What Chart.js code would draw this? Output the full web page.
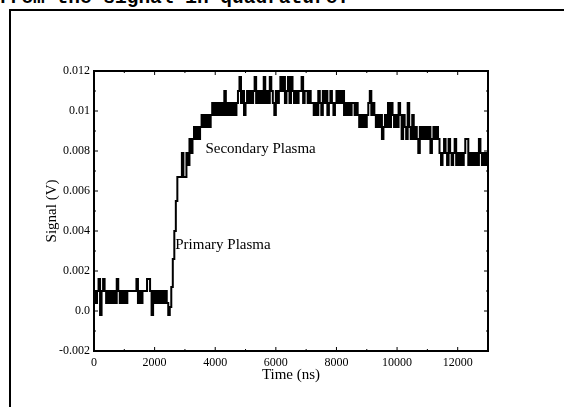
<!DOCTYPE html>
<html>
<head>
<meta charset="utf-8">
<script src="https://cdn.jsdelivr.net/npm/chart.js@4.4.1/dist/chart.umd.min.js"></script>
<style>
  html, body { margin: 0; padding: 0; background: #fff; }
  body { width: 564px; height: 407px; position: relative; overflow: hidden; }
  .caption {
    position: absolute; left: -2px; top: -12px;
    font: bold 19.5px "Liberation Mono", monospace; line-height: 20px;
    white-space: nowrap; color: #000;
  }
  .frame {
    position: absolute; left: 9px; top: 9px; width: 600px; height: 500px;
    border-left: 2px solid #000; border-top: 2px solid #000;
  }
  canvas { position: absolute; left: 0; top: 0; }
</style>
</head>
<body>
<div class="caption">from the signal in quadrature.</div>
<div class="frame"></div>
<canvas id="signalChart" width="564" height="407"></canvas>
<script>
// detector trace, one reading every 50 ns, in mV
var sampleStepNs = 50;
var signalMv = [
  1.0, 0.4, 1.0, 1.6, -0.2, 1.0, 1.6, 1.0, 0.4, 1.0, 0.4, 1.0, 0.4, 1.0, 0.4, 1.6, 1.0, 0.4, 1.0, 0.4,
  1.0, 0.4, 1.0, 1.0, 1.0, 1.0, 1.0, 1.0, 1.6, 0.4, 1.0, 0.4, 1.0, 1.0, 1.0, 1.6, 1.6, 1.0, -0.2, 1.0,
  0.4, 1.0, 0.4, 1.0, 0.4, 1.0, 0.4, 1.0, 0.4, -0.2, 0.2, 1.2, 2.6, 4.0, 5.5, 6.7, 6.7, 6.7, 7.9, 6.7,
  6.7, 7.9, 7.3, 8.6, 7.9, 8.6, 9.2, 8.6, 9.2, 8.6, 9.2, 9.8, 9.2, 9.8, 9.2, 9.8, 9.2, 9.8, 10.4, 9.8,
  10.4, 9.8, 10.4, 9.8, 10.4, 9.8, 11.0, 9.8, 10.4, 9.8, 10.4, 9.8, 10.4, 9.8, 10.4, 11.0, 11.7, 10.4, 11.0, 9.8,
  10.4, 11.0, 10.4, 11.0, 10.4, 11.0, 11.7, 10.4, 11.0, 10.4, 11.0, 10.4, 11.7, 10.4, 11.0, 10.4, 11.7, 11.0, 10.4, 9.8,
  11.0, 10.4, 11.0, 11.7, 11.0, 11.7, 10.4, 11.0, 11.7, 10.4, 11.7, 11.0, 10.4, 11.0, 10.4, 11.0, 11.0, 11.7, 10.4, 11.0,
  11.0, 10.4, 11.0, 10.4, 10.4, 9.8, 10.4, 9.8, 11.0, 10.4, 9.8, 11.0, 10.4, 11.0, 9.8, 10.4, 11.0, 10.4, 9.8, 10.4,
  11.0, 10.4, 11.0, 10.4, 11.0, 9.8, 10.4, 9.8, 10.4, 9.8, 10.4, 10.4, 9.8, 10.4, 9.8, 9.2, 9.8, 9.2, 9.8, 9.2,
  9.8, 10.4, 11.0, 9.8, 10.4, 9.8, 9.2, 9.8, 9.2, 9.8, 8.6, 9.2, 9.8, 9.2, 10.4, 9.2, 10.4, 9.8, 9.2, 9.8,
  9.2, 10.4, 9.8, 8.6, 9.8, 9.2, 8.6, 10.4, 9.2, 8.6, 9.8, 8.6, 9.2, 8.6, 7.9, 9.2, 8.6, 9.2, 8.6, 9.2,
  8.6, 9.2, 7.9, 8.6, 9.2, 8.6, 9.2, 8.6, 7.9, 7.3, 7.9, 8.6, 7.9, 7.3, 8.6, 7.9, 7.3, 7.9, 8.6, 7.3,
  7.9, 7.3, 7.9, 7.3, 7.9, 8.6, 8.6, 7.3, 7.9, 7.3, 7.9, 7.3, 7.9, 7.3, 8.6, 7.9, 7.3, 7.9, 7.3, 7.9,
  7.6
];

var timeTicks = [0, 2000, 4000, 6000, 8000, 10000, 12000];
var signalTicks = [-0.002, 0, 0.002, 0.004, 0.006, 0.008, 0.01, 0.012];

var notes = [
  { text: "Primary Plasma", t: 2680, v: 0.0033 },
  { text: "Secondary Plasma", t: 3675, v: 0.0081 }
];

var points = signalMv.map(function (mv, i) {
  return { x: i * sampleStepNs, y: mv / 1000 };
});

var serif = '"Liberation Serif", "Times New Roman", serif';

// plot frame, inward ticks and the two text notes
var framePlugin = {
  id: "frame",
  afterDraw: function (chart) {
    var ctx = chart.ctx;
    var a = chart.chartArea;
    var xs = chart.scales.x;
    var ys = chart.scales.y;
    ctx.save();
    ctx.strokeStyle = "#000";
    ctx.lineWidth = 1;
    timeTicks.forEach(function (t) {
      var px = xs.getPixelForValue(t);
      ctx.beginPath();
      ctx.moveTo(px, a.bottom); ctx.lineTo(px, a.bottom - 4);
      ctx.moveTo(px, a.top); ctx.lineTo(px, a.top + 4);
      ctx.stroke();
      var mx = xs.getPixelForValue(t + 1000);
      if (mx < a.right) {
        ctx.beginPath();
        ctx.moveTo(mx, a.bottom); ctx.lineTo(mx, a.bottom - 2);
        ctx.moveTo(mx, a.top); ctx.lineTo(mx, a.top + 2);
        ctx.stroke();
      }
    });
    signalTicks.forEach(function (v) {
      var py = ys.getPixelForValue(v);
      ctx.beginPath();
      ctx.moveTo(a.left, py); ctx.lineTo(a.left + 4, py);
      ctx.moveTo(a.right, py); ctx.lineTo(a.right - 4, py);
      ctx.stroke();
      var my = ys.getPixelForValue(v + 0.001);
      if (my > a.top) {
        ctx.beginPath();
        ctx.moveTo(a.left, my); ctx.lineTo(a.left + 2, my);
        ctx.moveTo(a.right, my); ctx.lineTo(a.right - 2, my);
        ctx.stroke();
      }
    });
    ctx.lineWidth = 2;
    ctx.strokeRect(a.left, a.top, a.right - a.left, a.bottom - a.top);

    ctx.fillStyle = "#000";
    ctx.font = "15px " + serif;
    ctx.textAlign = "left";
    ctx.textBaseline = "middle";
    notes.forEach(function (n) {
      ctx.fillText(n.text, xs.getPixelForValue(n.t), ys.getPixelForValue(n.v));
    });
    ctx.restore();
  }
};

var ctx = document.getElementById("signalChart").getContext("2d");
var chart = new Chart(ctx, {
  type: "line",
  data: {
    datasets: [
      {
        data: points,
        borderColor: "#000",
        borderWidth: 2,
        pointRadius: 0,
        stepped: true,
        fill: false,
      },
    ],
  },
  options: {
    responsive: false,
    animation: false,
    devicePixelRatio: 1,
    layout: { padding: { left: 0, top: 71, right: 76, bottom: 0 } },
    plugins: { legend: { display: false }, tooltip: { enabled: false } },
    scales: {
      x: {
        type: "linear",
        min: 0,
        max: 13000,
        grid: { display: false, drawTicks: false },
        border: { display: false },
        afterBuildTicks: function (scale) {
          scale.ticks = timeTicks.map(function (v) { return { value: v }; });
        },
        afterFit: function (scale) { scale.height = 56; },
        ticks: {
          color: "#000",
          padding: 5,
          maxRotation: 0,
          font: { family: serif, size: 12 },
          callback: function (v) { return String(v); },
        },
        title: {
          display: true,
          text: "Time (ns)",
          color: "#000",
          font: { family: serif, size: 15 },
          padding: { top: 0, bottom: 23 },
        },
      },
      y: {
        min: -0.002,
        max: 0.012,
        grid: { display: false, drawTicks: false },
        border: { display: false },
        afterBuildTicks: function (scale) {
          scale.ticks = signalTicks.map(function (v) { return { value: v }; });
        },
        afterFit: function (scale) { scale.width = 94; },
        ticks: {
          color: "#000",
          padding: 4,
          font: { family: serif, size: 12 },
          callback: function (v) {
            if (Math.abs(v) < 1e-9) return "0.0";
            return String(Number(v.toFixed(3)));
          },
        },
        title: {
          display: true,
          text: "Signal (V)",
          color: "#000",
          font: { family: serif, size: 15 },
          padding: { top: 43, bottom: 0 },
        },
      },
    },
  },
  plugins: [framePlugin],
});
</script>
</body>
</html>
